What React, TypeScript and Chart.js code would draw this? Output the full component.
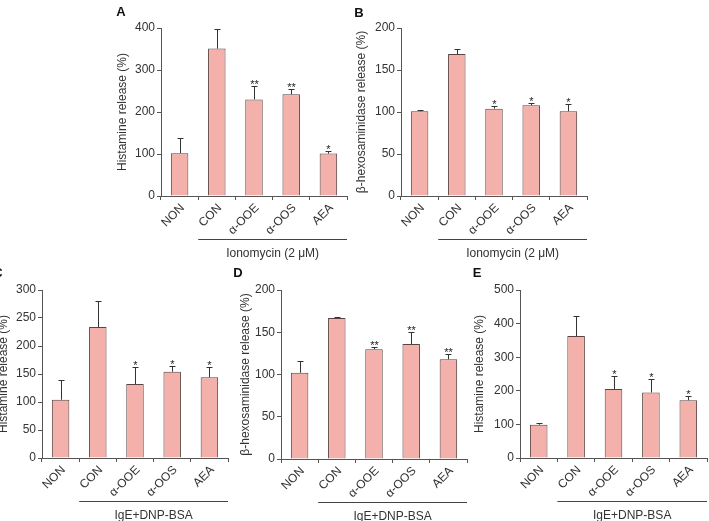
import React, { useEffect, useRef } from 'react';
import { Chart, registerables } from 'chart.js';
Chart.register(...registerables);

const FONT = '"Liberation Sans", Arial, Helvetica, sans-serif';
Chart.defaults.font.family = FONT;

// ---- data ----
const categories = ['NON', 'CON', 'α-OOE', 'α-OOS', 'AEA'];

const histIonoMean = [102, 351, 230, 242, 101];
const histIonoSem = [37, 46, 31, 12, 5];
const histIonoStars = ['', '', '**', '**', '*'];

const hexIonoMean = [101, 169, 104, 108, 101];
const hexIonoSem = [1, 6, 3, 2.5, 8];
const hexIonoStars = ['', '', '*', '*', '*'];

const histIgeMean = [104, 234, 132, 154, 144];
const histIgeSem = [35, 46, 30, 10, 19];
const histIgeStars = ['', '', '*', '*', '*'];

const hexIgeMean = [102, 167, 130, 136, 118];
const hexIgeSem = [14, 1, 3, 14, 6];
const hexIgeStars = ['', '', '**', '**', '**'];

const histIge2Mean = [99, 363, 205, 195, 172];
const histIge2Sem = [6, 61, 39, 41, 12];
const histIge2Stars = ['', '', '*', '*', '*'];

const titleHist = 'Histamine release (%)';
const titleHex = 'β-hexosaminidase release (%)';
const groupIono = 'Ionomycin (2 μM)';
const groupIge = 'IgE+DNP-BSA';

const FILL = '#F4B0AA';
const EDGE = '#5a4340';
const AXIS = '#555555';
const TEXT = '#333333';

type Panel = {
  key: string;
  means: number[];
  sem: number[];
  stars: string[];
  title: string;
  group: string;
  max: number;
  step: number;
  left: number;
  top: number;
  w: number;
  h: number;
  yWidth: number;
  padTop: number;
  padRight: number;
  xHeight: number;
};

const panels: Panel[] = [
  { key: 'A', means: histIonoMean, sem: histIonoSem, stars: histIonoStars, title: titleHist, group: groupIono, max: 400, step: 100,
    left: 115, top: 0, w: 240, h: 270, yWidth: 46, padTop: 28, padRight: 8, xHeight: 74 },
  { key: 'B', means: hexIonoMean, sem: hexIonoSem, stars: hexIonoStars, title: titleHex, group: groupIono, max: 200, step: 50,
    left: 354, top: 0, w: 241, h: 270, yWidth: 47, padTop: 28, padRight: 8, xHeight: 74 },
  { key: 'C', means: histIgeMean, sem: histIgeSem, stars: histIgeStars, title: titleHist, group: groupIge, max: 300, step: 50,
    left: -4, top: 265, w: 240, h: 256, yWidth: 46, padTop: 25, padRight: 8, xHeight: 63 },
  { key: 'D', means: hexIgeMean, sem: hexIgeSem, stars: hexIgeStars, title: titleHex, group: groupIge, max: 200, step: 50,
    left: 238, top: 265, w: 237, h: 256, yWidth: 43, padTop: 25, padRight: 8, xHeight: 62 },
  { key: 'E', means: histIge2Mean, sem: histIge2Sem, stars: histIge2Stars, title: titleHist, group: groupIge, max: 500, step: 100,
    left: 472, top: 265, w: 237, h: 256, yWidth: 48, padTop: 25, padRight: 2, xHeight: 63 },
];

const letters = [
  { t: 'A', x: 121, y: 12 },
  { t: 'B', x: 359, y: 13 },
  { t: 'C', x: -2, y: 273 },
  { t: 'D', x: 238, y: 273 },
  { t: 'E', x: 477, y: 273 },
];

function PanelChart({ p }: { p: Panel }) {
  const ref = useRef<HTMLCanvasElement>(null);
  useEffect(() => {
    const canvas = ref.current!;
    const extras = {
      id: 'extras' + p.key,
      afterDatasetsDraw(chart: any) {
        const ctx = chart.ctx;
        const xs = chart.scales.x;
        const ys = chart.scales.y;
        ctx.save();
        ctx.strokeStyle = '#333';
        ctx.lineWidth = 1;
        p.means.forEach((m, i) => {
          const x = Math.round(xs.getPixelForValue(i)) + 0.5;
          const yb = ys.getPixelForValue(m);
          const yt = Math.round(ys.getPixelForValue(m + p.sem[i])) + 0.5;
          ctx.beginPath();
          ctx.moveTo(x, yb);
          ctx.lineTo(x, yt);
          ctx.moveTo(x - 3, yt);
          ctx.lineTo(x + 3, yt);
          ctx.stroke();
          if (p.stars[i]) {
            ctx.fillStyle = '#222';
            ctx.font = `11px ${FONT}`;
            ctx.textAlign = 'center';
            ctx.textBaseline = 'alphabetic';
            ctx.fillText(p.stars[i], x, yt + 1);
          }
        });
        ctx.restore();
      },
      afterDraw(chart: any) {
        const ctx = chart.ctx;
        const area = chart.chartArea;
        const step = (area.right - area.left) / p.means.length;
        const x0 = area.left + step;
        const x1 = area.right;
        const yl = Math.round(area.bottom + 43) + 0.5;
        ctx.save();
        ctx.strokeStyle = '#444';
        ctx.lineWidth = 1;
        ctx.beginPath();
        ctx.moveTo(x0, yl);
        ctx.lineTo(x1, yl);
        ctx.stroke();
        ctx.fillStyle = TEXT;
        ctx.font = `12px ${FONT}`;
        ctx.textAlign = 'center';
        ctx.textBaseline = 'middle';
        ctx.fillText(p.group, (x0 + x1) / 2, area.bottom + 58);
        ctx.restore();
      },
    };
    const chart = new Chart(canvas, {
      type: 'bar',
      data: {
        labels: categories,
        datasets: [
          {
            data: p.means,
            backgroundColor: FILL,
            borderColor: EDGE,
            borderWidth: 1,
            borderSkipped: 'start',
            categoryPercentage: 1,
            barPercentage: 0.47,
          },
        ],
      },
      options: {
        responsive: false,
        maintainAspectRatio: false,
        animation: false,
        devicePixelRatio: 1,
        layout: { padding: { left: 0, top: p.padTop, right: p.padRight, bottom: 0 } },
        plugins: {
          legend: { display: false },
          tooltip: { enabled: false },
          title: { display: false },
        },
        scales: {
          x: {
            type: 'category',
            offset: true,
            grid: { display: true, drawOnChartArea: false, drawTicks: true, tickLength: 4, color: AXIS, offset: true },
            border: { display: true, color: AXIS, width: 1 },
            ticks: { minRotation: 45, maxRotation: 45, autoSkip: false, padding: 1, labelOffset: 3, color: TEXT, font: { size: 12 } },
            afterFit: (s: any) => { s.height = p.xHeight; },
          },
          y: {
            min: 0,
            max: p.max,
            ticks: { stepSize: p.step, color: TEXT, font: { size: 12 }, padding: 2 },
            grid: { display: true, drawOnChartArea: false, drawTicks: true, tickLength: 4, color: AXIS },
            border: { display: true, color: AXIS, width: 1 },
            title: { display: true, text: p.title, font: { size: 12 }, color: TEXT, padding: 0 },
            afterFit: (s: any) => { s.width = p.yWidth; },
          },
        },
      },
      plugins: [extras],
    } as any);
    return () => chart.destroy();
  }, []);
  return (
    <canvas
      ref={ref}
      width={p.w}
      height={p.h}
      style={{ position: 'absolute', left: p.left, top: p.top, width: p.w, height: p.h }}
    />
  );
}

export default function App() {
  return (
    <div style={{ position: 'absolute', left: 0, top: 0, width: 709, height: 521, overflow: 'hidden', background: '#fff' }}>
      {panels.map((p) => (
        <PanelChart key={p.key} p={p} />
      ))}
      {letters.map((l) => (
        <div
          key={l.t}
          style={{
            position: 'absolute',
            left: l.x - 10,
            top: l.y - 8,
            width: 20,
            height: 16,
            lineHeight: '16px',
            textAlign: 'center',
            fontFamily: FONT,
            fontWeight: 'bold',
            fontSize: 13,
            color: '#111',
          }}
        >
          {l.t}
        </div>
      ))}
    </div>
  );
}
